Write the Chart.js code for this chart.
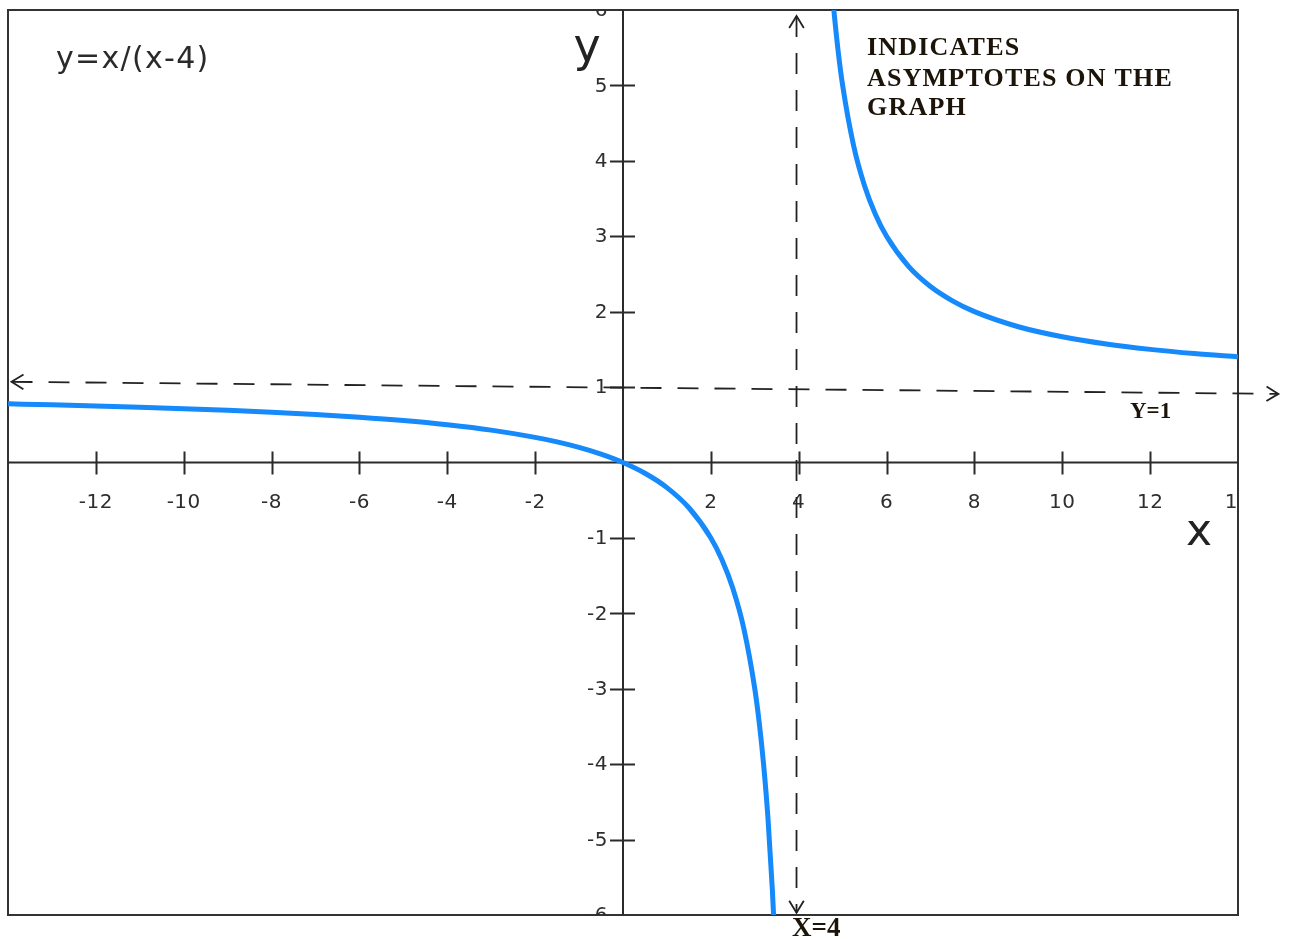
<!DOCTYPE html>
<html>
<head>
<meta charset="utf-8">
<title>y=x/(x-4)</title>
<script src="https://cdn.jsdelivr.net/npm/chart.js@4.4.1/dist/chart.umd.min.js"></script>
<style>
  html, body { margin: 0; padding: 0; background: #ffffff; }
  #wrap { width: 1289px; height: 939px; position: relative; }
</style>
</head>
<body>
<div id="wrap"><canvas id="c" width="1289" height="939"></canvas></div>
<script>
// Left branch of y = x/(x-4) (x < 4)
const leftX = [-14, -13, -12, -11, -10, -9, -8, -7, -6, -5, -4, -3, -2, -1.5, -1, -0.5, 0, 0.5, 1, 1.5, 2, 2.25, 2.5, 2.75, 3, 3.1, 3.2, 3.3, 3.4, 3.45];
const leftY = [0.778, 0.765, 0.75, 0.733, 0.714, 0.692, 0.667, 0.636, 0.6, 0.556, 0.5, 0.429, 0.333, 0.273, 0.2, 0.111, 0, -0.143, -0.333, -0.6, -1, -1.286, -1.667, -2.2, -3, -3.444, -4, -4.714, -5.667, -6.273];
// Right branch (x > 4)
const rightX = [4.75, 4.8, 4.9, 5, 5.25, 5.5, 5.75, 6, 6.5, 7, 7.5, 8, 9, 10, 11, 12, 13, 14];
const rightY = [6.333, 6, 5.444, 5, 4.2, 3.667, 3.286, 3, 2.6, 2.333, 2.143, 2, 1.8, 1.667, 1.571, 1.5, 1.444, 1.4];

// Asymptote guides
const vAsymX = [3.95, 3.95];
const vAsymY = [5.92, -5.97];
const hAsymX = [-13.92, 14.92];
const hAsymY = [1.07, 0.91];

// Axis ticks
const xTicks = [-12, -10, -8, -6, -4, -2, 2, 4, 6, 8, 10, 12, 14];
const yTicks = [6, 5, 4, 3, 2, 1, -1, -2, -3, -4, -5, -6];

const pts = (xs, ys) => xs.map((x, i) => ({ x: x, y: ys[i] }));
const curveData = pts(leftX, leftY).concat([{ x: 4, y: null }], pts(rightX, rightY));

const INK = '#2b2b2b';

const axesPlugin = {
  id: 'centerAxes',
  beforeDatasetsDraw(chart) {
    const { ctx, chartArea: a, scales: { x, y } } = chart;
    const x0 = x.getPixelForValue(0), y0 = y.getPixelForValue(0);
    ctx.save();
    // frame
    ctx.strokeStyle = '#333';
    ctx.lineWidth = 2;
    ctx.strokeRect(a.left, a.top, a.right - a.left, a.bottom - a.top);
    // axis lines through the origin
    ctx.strokeStyle = INK;
    ctx.lineWidth = 2;
    ctx.beginPath();
    ctx.moveTo(a.left, y0); ctx.lineTo(a.right, y0);
    ctx.moveTo(x0, a.top); ctx.lineTo(x0, a.bottom);
    ctx.stroke();
    // tick marks crossing the axes
    ctx.beginPath();
    xTicks.forEach(v => {
      const px = Math.round(x.getPixelForValue(v)) + 0.5;
      if (px < a.right - 2) { ctx.moveTo(px, y0 - 11); ctx.lineTo(px, y0 + 12); }
    });
    yTicks.forEach(v => {
      const py = Math.round(y.getPixelForValue(v)) + 0.5;
      if (py > a.top + 2 && py < a.bottom - 2) { ctx.moveTo(x0 - 13, py); ctx.lineTo(x0 + 12, py); }
    });
    ctx.stroke();
    // tick labels, clipped to the frame
    ctx.beginPath();
    ctx.rect(a.left, a.top, a.right - a.left, a.bottom - a.top);
    ctx.clip();
    ctx.fillStyle = '#2e2e2e';
    ctx.font = '20px "DejaVu Sans"';
    ctx.letterSpacing = '0.5px';
    ctx.textAlign = 'center';
    ctx.textBaseline = 'middle';
    xTicks.forEach(v => ctx.fillText(String(v), x.getPixelForValue(v), y0 + 40));
    ctx.textAlign = 'right';
    yTicks.forEach(v => ctx.fillText(String(v), x0 - 15, y.getPixelForValue(v) + 1));
    ctx.restore();
  },
  afterDatasetsDraw(chart) {
    const { ctx, scales: { x, y } } = chart;
    ctx.save();
    // open arrowheads on the asymptote guides
    const arrow = (tx, ty, fx, fy) => {
      const ang = Math.atan2(ty - fy, tx - fx);
      const L = 14, s = 0.55;
      ctx.beginPath();
      ctx.moveTo(tx - L * Math.cos(ang - s), ty - L * Math.sin(ang - s));
      ctx.lineTo(tx, ty);
      ctx.lineTo(tx - L * Math.cos(ang + s), ty - L * Math.sin(ang + s));
      ctx.stroke();
    };
    ctx.strokeStyle = '#222';
    ctx.lineWidth = 1.8;
    const hx0 = x.getPixelForValue(hAsymX[0]), hy0 = y.getPixelForValue(hAsymY[0]);
    const hx1 = x.getPixelForValue(hAsymX[1]), hy1 = y.getPixelForValue(hAsymY[1]);
    arrow(hx0, hy0, hx1, hy1);
    arrow(hx1, hy1, hx0, hy0);
    const vx = x.getPixelForValue(vAsymX[0]);
    const vy0 = y.getPixelForValue(vAsymY[0]), vy1 = y.getPixelForValue(vAsymY[1]);
    arrow(vx, vy0, vx, vy1);
    arrow(vx, vy1, vx, vy0);

    // axis names
    ctx.fillStyle = '#222';
    ctx.textBaseline = 'alphabetic';
    ctx.textAlign = 'center';
    ctx.font = '46px "DejaVu Sans"';
    ctx.fillText('y', 587, 61);
    ctx.font = '44px "DejaVu Sans"';
    ctx.fillText('x', 1199, 545);

    // equation
    ctx.textAlign = 'left';
    ctx.font = '30px "DejaVu Sans"';
    ctx.letterSpacing = '1.3px';
    ctx.fillStyle = '#2a2a2a';
    ctx.fillText('y=x/(x-4)', 56, 68);

    // asymptote notes
    ctx.fillStyle = '#1c1408';
    ctx.font = 'bold 26px "Liberation Serif"';
    ctx.letterSpacing = '1.2px';
    ctx.fillText('INDICATES', 867, 55);
    ctx.fillText('ASYMPTOTES ON THE', 867, 86);
    ctx.fillText('GRAPH', 867, 115);
    ctx.font = 'bold 23px "Liberation Serif"';
    ctx.letterSpacing = '0px';
    ctx.fillText('Y=1', 1130, 418);
    ctx.font = 'bold 27px "Liberation Serif"';
    ctx.fillText('X=4', 792, 936);
    ctx.restore();
  }
};

new Chart(document.getElementById('c'), {
  type: 'line',
  data: {
    datasets: [
      {
        label: 'y=x/(x-4)',
        data: curveData,
        borderColor: '#1689fb',
        borderWidth: 5,
        pointRadius: 0,
        spanGaps: false,
        cubicInterpolationMode: 'monotone',
        order: 0
      },
      {
        label: 'x=4',
        data: pts(vAsymX, vAsymY),
        borderColor: '#222',
        borderWidth: 1.8,
        borderDash: [21, 16],
        pointRadius: 0,
        clip: false,
        order: 1
      },
      {
        label: 'y=1',
        data: pts(hAsymX, hAsymY),
        borderColor: '#222',
        borderWidth: 1.8,
        borderDash: [21, 16],
        pointRadius: 0,
        clip: false,
        order: 1
      }
    ]
  },
  options: {
    responsive: false,
    animation: false,
    layout: { padding: { left: 8, top: 10, right: 51, bottom: 24 } },
    plugins: { legend: { display: false }, tooltip: { enabled: false } },
    scales: {
      x: { type: 'linear', min: -14, max: 14, display: false },
      y: { type: 'linear', min: -6, max: 6, display: false }
    }
  },
  plugins: [axesPlugin]
});
</script>
</body>
</html>
